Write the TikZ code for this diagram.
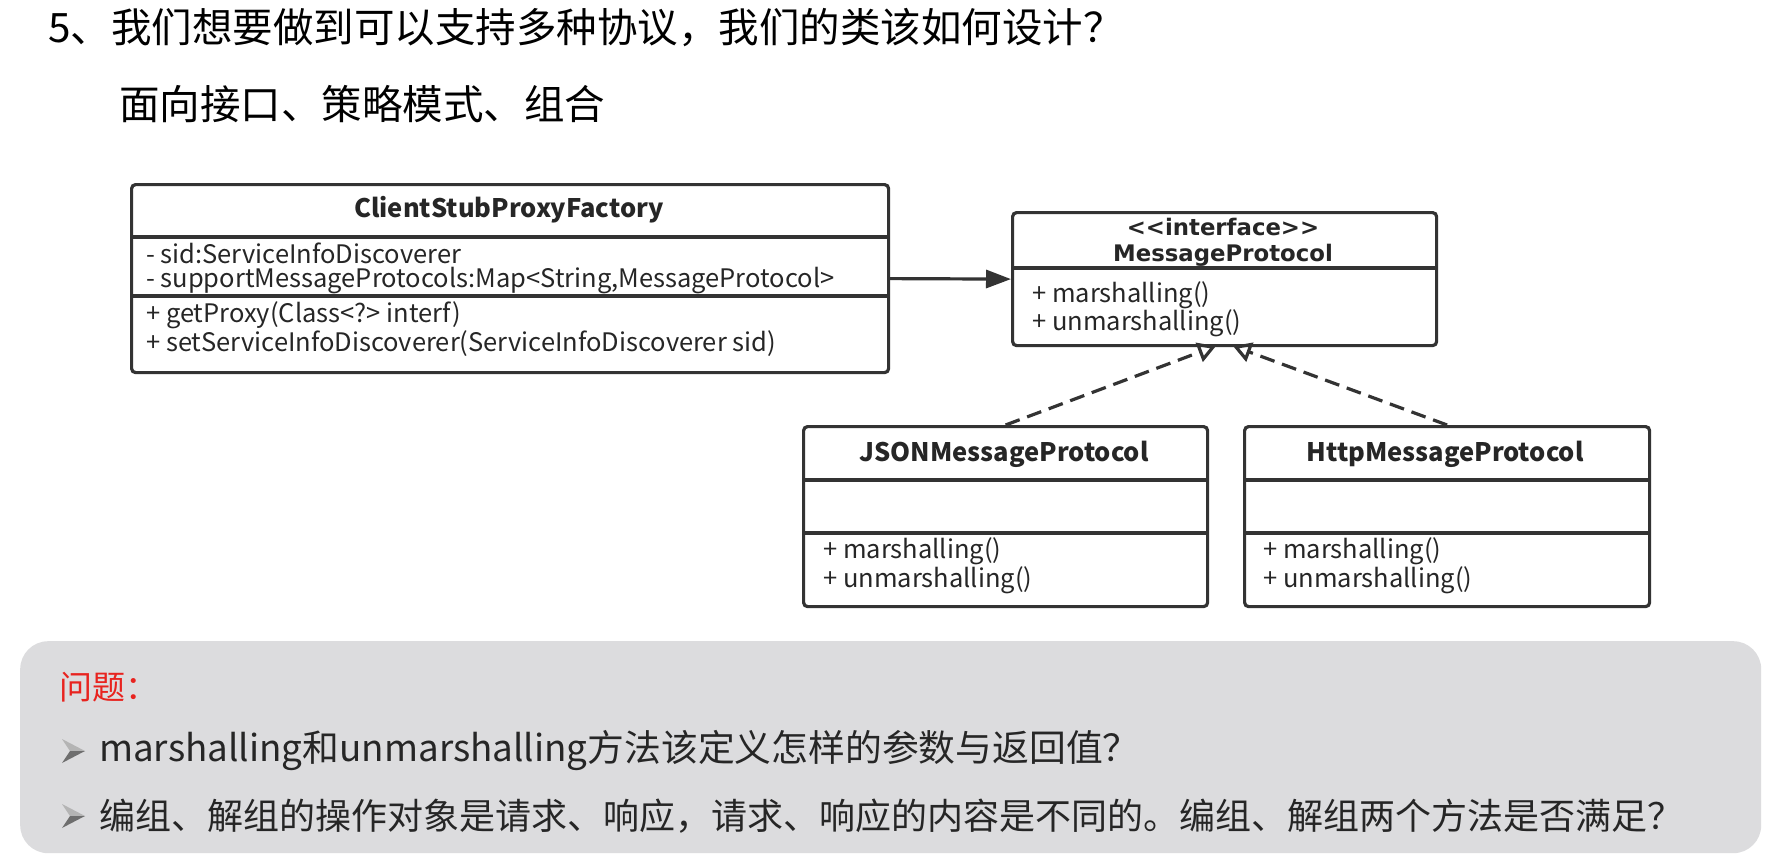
\documentclass[tikz,border=0pt]{standalone}
\usepackage{fontspec}
\setmainfont{Noto Sans CJK SC}
\newfontfamily\dejavu{DejaVu Sans}
\usetikzlibrary{arrows.meta}
\definecolor{umlline}{HTML}{333333}
\definecolor{qgray}{HTML}{DCDCDE}
\definecolor{qred}{HTML}{E8231F}
\definecolor{txt}{HTML}{262626}
\definecolor{bullight}{HTML}{B4B4B4}
\definecolor{buldark}{HTML}{6E6E6E}
\begin{document}
\begin{tikzpicture}[x=1pt,y=-1pt,
  umlbox/.style={draw=umlline, line width=3.2pt, rounded corners=4pt, inner sep=0pt, anchor=north west, fill=white},
  divider/.style={draw=umlline, line width=3.2pt},
  member/.style={inner sep=0pt, anchor=west, text=txt, font=\fontsize{25.5}{27}\selectfont},
  cname/.style={inner sep=0pt, text=txt, font=\fontsize{25.5}{27}\selectfont\bfseries},
  vname/.style={inner sep=0pt, text=txt, font=\dejavu\fontsize{22.8}{24}\selectfont\bfseries},
  heading/.style={inner sep=0pt, anchor=west, text=black, font=\fontsize{40.5}{44}\selectfont},
  qtext/.style={inner sep=0pt, anchor=west, text=txt, font=\fontsize{36}{38}\selectfont},
  assoc/.style={draw=umlline, line width=3.2pt, -{Triangle[length=25pt,width=18pt]}},
  realize/.style={draw=umlline, line width=3.2pt, dash pattern=on 15pt off 8pt, -{Triangle[open,length=18pt,width=20pt]}},
  arrowbullet/.pic={
    \fill[bullight] (0,-12) -- (23,0) -- (8,0) -- cycle;
    \fill[buldark] (0,12) -- (23,0) -- (8,0) -- cycle;
  }
]
\useasboundingbox[fill=white] (0,0) rectangle (1772,856);

% headings
\node[heading] (h1) at (48,28) {5、我们想要做到可以支持多种协议，我们的类该如何设计？};
\node[heading] (h2) at (119,104) {面向接口、策略模式、组合};

% ClientStubProxyFactory
\node[umlbox, minimum width=757pt, minimum height=188pt] (cspf) at (130,183) {};
\draw[divider] ([yshift=-54pt]cspf.north west) -- ([yshift=-54pt]cspf.north east);
\draw[divider] ([yshift=-113pt]cspf.north west) -- ([yshift=-113pt]cspf.north east);
\node[cname] (cspft) at (509,210) {ClientStubProxyFactory};
\node[member] (cspfa1) at (146,253) {- sid:ServiceInfoDiscoverer};
\node[member] (cspfa2) at (146,281) {- supportMessageProtocols:Map<String,MessageProtocol>};
\node[member] (cspfm1) at (146,315) {+ getProxy(Class<?> interf)};
\node[member] (cspfm2) at (146,344) {+ setServiceInfoDiscoverer(ServiceInfoDiscoverer sid)};

% MessageProtocol
\node[umlbox, minimum width=424pt, minimum height=133pt] (mp) at (1011,211) {};
\draw[divider] ([yshift=-57pt]mp.north west) -- ([yshift=-57pt]mp.north east);
\node[vname] (mps) at (1223,227) {<{}<interface>{}>};
\node[vname] (mpt) at (1223,255) {MessageProtocol};
\node[member] (mpm1) at (1032,295) {+ marshalling()};
\node[member] (mpm2) at (1032,323) {+ unmarshalling()};

% JSONMessageProtocol
\node[umlbox, minimum width=404pt, minimum height=180pt] (json) at (802,425) {};
\draw[divider] ([yshift=-55pt]json.north west) -- ([yshift=-55pt]json.north east);
\draw[divider] ([yshift=-108pt]json.north west) -- ([yshift=-108pt]json.north east);
\node[cname] (jsont) at (1004,454) {JSONMessageProtocol};
\node[member] (jsonm1) at (823,551) {+ marshalling()};
\node[member] (jsonm2) at (823,580) {+ unmarshalling()};

% HttpMessageProtocol
\node[umlbox, minimum width=405pt, minimum height=180pt] (http) at (1243,425) {};
\draw[divider] ([yshift=-55pt]http.north west) -- ([yshift=-55pt]http.north east);
\draw[divider] ([yshift=-108pt]http.north west) -- ([yshift=-108pt]http.north east);
\node[cname] (httpt) at (1445,454) {HttpMessageProtocol};
\node[member] (httpm1) at (1263,551) {+ marshalling()};
\node[member] (httpm2) at (1263,580) {+ unmarshalling()};

% connectors
\draw[assoc] (cspf.east) -- (mp.west);
\coordinate (mpL) at (1216,346);
\coordinate (mpR) at (1233,346);
\draw[realize] (json.north) -- (mpL);
\draw[realize] (http.north) -- (mpR);

% question box
\node[fill=qgray, rounded corners=28pt, minimum width=1741pt, minimum height=212pt, inner sep=0pt, anchor=north west] (qbox) at (20,641) {};
\node[qtext, text=qred, font=\fontsize{33}{36}\selectfont] (q0) at (59,687) {问题：};
\pic at (62,751) {arrowbullet};
\node[qtext, font=\fontsize{36.8}{39}\selectfont] (q1) at (99,751) {marshalling和unmarshalling方法该定义怎样的参数与返回值？};
\pic at (62,816) {arrowbullet};
\node[qtext] (q2) at (99,816) {编组、解组的操作对象是请求、响应，请求、响应的内容是不同的。编组、解组两个方法是否满足？};
\end{tikzpicture}
\end{document}
